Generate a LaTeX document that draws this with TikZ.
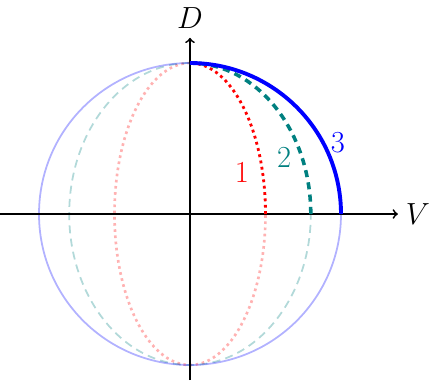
\documentclass[tikz,border=0pt]{standalone}
\usepackage{amsmath, amssymb}
\usepackage{xcolor}
\usepackage{tikz}

\begin{document}
\begin{tikzpicture}[
  faint/.style={opacity=0.3},
  lbl/.style={font=\LARGE}
]
\useasboundingbox (-3.775,-3.338) rectangle (4.947,4.252);

% Lower and left parts (faint)
\draw[red, faint, line width=1.5pt, dotted] (0,3) arc[start angle=90, end angle=360, x radius=1.5, y radius=3];
\draw[teal, faint, line width=1pt, dash pattern=on 4.5pt off 3pt] (0,3) arc[start angle=90, end angle=360, x radius=2.4, y radius=3];
\draw[blue, faint, line width=1pt] (0,3) arc[start angle=90, end angle=360, radius=3];

% Axes
\coordinate (vstart) at (-3.775,0);
\coordinate (vend) at (4.13,0);
\coordinate (dstart) at (0,-3.3);
\coordinate (dend) at (0,3.5);
\draw[line width=1pt, ->] (vstart) -- (vend);
\draw[line width=1pt, ->] (dstart) -- (dend);
\node[lbl] (vlabel) at (4.53,0) {$V$};
\node[lbl] (dlabel) at (0,3.89) {$D$};

% First quadrant
\draw[red, line width=1.6pt, dotted] (1.5,0) arc[start angle=0, end angle=90, x radius=1.5, y radius=3];
\draw[teal, line width=2pt, dash pattern=on 4pt off 3pt] (2.4,0) arc[start angle=0, end angle=90, x radius=2.4, y radius=3];
\draw[blue, line width=2.2pt] (3,0) arc[start angle=0, end angle=90, radius=3];

% Labels
\node[red, lbl] (one) at (1.03,0.83) {1};
\node[teal, lbl] (two) at (1.87,1.13) {2};
\node[blue, lbl] (three) at (2.94,1.41) {3};
\end{tikzpicture}
\end{document}
